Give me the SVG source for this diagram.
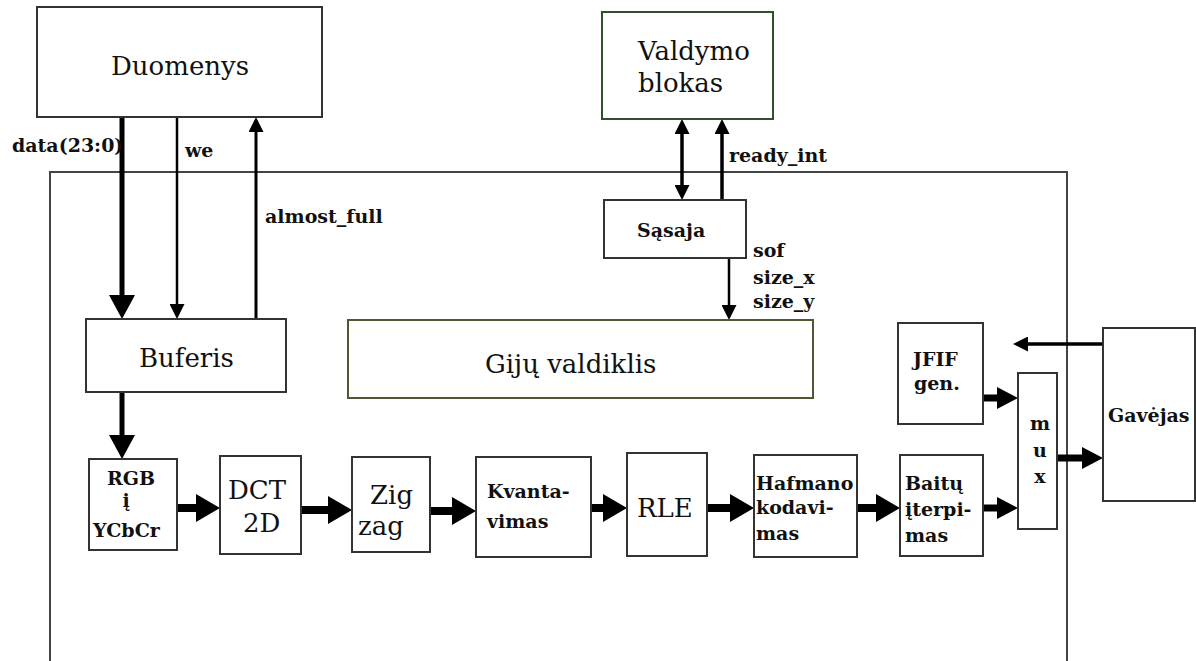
<svg xmlns="http://www.w3.org/2000/svg" width="1196" height="661" viewBox="0 0 1196 661">
<style>
.box{fill:#fff;stroke:#333;stroke-width:2}
.g{stroke:#2f4f2f}
.o{stroke:#555533}
.b{font-weight:bold;font-size:19px;fill:#111}
.r{font-size:26px;fill:#111}
.c{stroke:#000;fill:none}
</style>
<defs>
<marker id="big" markerUnits="userSpaceOnUse" markerWidth="24" markerHeight="28" refX="0" refY="14" orient="auto"><path d="M0,0 L24,14 L0,28 Z" fill="#000"/></marker>
<marker id="vbig" markerUnits="userSpaceOnUse" markerWidth="24" markerHeight="26" refX="0" refY="13" orient="auto"><path d="M0,0 L24,13 L0,26 Z" fill="#000"/></marker>
<marker id="mid" markerUnits="userSpaceOnUse" markerWidth="21" markerHeight="22" refX="0" refY="11" orient="auto"><path d="M0,0 L21,11 L0,22 Z" fill="#000"/></marker>
<marker id="sm" markerUnits="userSpaceOnUse" markerWidth="15" markerHeight="15" refX="0" refY="7.5" orient="auto-start-reverse"><path d="M0,0 L15,7.5 L0,15 Z" fill="#000"/></marker>
</defs>
<rect width="1196" height="661" fill="#fff"/>
<path id="outer" d="M50,661 L50,172 L1067,172 L1067,661" fill="none" stroke="#444" stroke-width="2"/>
<g id="connectors">
<line class="c" x1="122" y1="117" x2="122" y2="295" stroke-width="5" marker-end="url(#vbig)"/>
<line class="c" x1="177" y1="117" x2="177" y2="304" stroke-width="2.5" marker-end="url(#sm)"/>
<line class="c" x1="256" y1="319" x2="256" y2="132" stroke-width="3" marker-end="url(#sm)"/>
<line class="c" x1="122" y1="392" x2="122" y2="435" stroke-width="5" marker-end="url(#vbig)"/>
<line class="c" x1="177" y1="508" x2="196" y2="508" stroke-width="8" marker-end="url(#big)"/>
<line class="c" x1="301" y1="510" x2="328" y2="510" stroke-width="8" marker-end="url(#big)"/>
<line class="c" x1="430" y1="511" x2="452" y2="511" stroke-width="8" marker-end="url(#big)"/>
<line class="c" x1="591" y1="508" x2="603" y2="508" stroke-width="8" marker-end="url(#big)"/>
<line class="c" x1="707" y1="508" x2="730" y2="508" stroke-width="8" marker-end="url(#big)"/>
<line class="c" x1="857" y1="508" x2="876" y2="508" stroke-width="8" marker-end="url(#big)"/>
<line class="c" x1="983" y1="508" x2="997" y2="508" stroke-width="7" marker-end="url(#mid)"/>
<line class="c" x1="983" y1="398" x2="997" y2="398" stroke-width="7" marker-end="url(#mid)"/>
<line class="c" x1="1057" y1="458" x2="1082" y2="458" stroke-width="7" marker-end="url(#mid)"/>
<line class="c" x1="682" y1="134" x2="682" y2="185" stroke-width="3.5" marker-start="url(#sm)" marker-end="url(#sm)"/>
<line class="c" x1="722" y1="200" x2="722" y2="134" stroke-width="3.5" marker-end="url(#sm)"/>
<line class="c" x1="729" y1="258" x2="729" y2="305" stroke-width="2.5" marker-end="url(#sm)"/>
<line class="c" x1="1103" y1="344" x2="1028" y2="344" stroke-width="3.5" marker-end="url(#sm)"/>
</g>
<g id="labels" font-family="DejaVu Serif">
<text class="b" x="12" y="152">data(23:0)</text>
<text class="b" x="185" y="157">we</text>
<text class="b" x="265" y="223">almost_full</text>
<text class="b" x="729" y="162">ready_int</text>
<text class="b" x="753" y="257">sof</text>
<text class="b" x="753" y="284">size_x</text>
<text class="b" x="753" y="308">size_y</text>
</g>
<g id="nodes" font-family="DejaVu Serif">
<g id="duomenys">
<rect class="box" x="37" y="7" width="285" height="110"/>
<text class="r" x="111" y="75" font-size="27">Duomenys</text>
</g>
<g id="valdymo">
<rect class="box g" x="602" y="12" width="171" height="107"/>
<text class="r" x="638" y="60" font-size="27">Valdymo</text>
<text class="r" x="638" y="92" font-size="27">blokas</text>
</g>
<g id="sasaja">
<rect class="box" x="604" y="200" width="142" height="58"/>
<text class="b" x="637" y="237">Sąsaja</text>
</g>
<g id="buferis">
<rect class="box" x="86" y="319" width="200" height="73"/>
<text class="r" x="139" y="367">Buferis</text>
</g>
<g id="giju">
<rect class="box o" x="348" y="320" width="465" height="78"/>
<text class="r" x="485" y="373">Gijų valdiklis</text>
</g>
<g id="rgb">
<rect class="box" x="89" y="459" width="88" height="91"/>
<text class="b" x="107" y="485">RGB</text>
<text class="b" x="126" y="507" text-anchor="middle">į</text>
<text class="b" x="93" y="537">YCbCr</text>
</g>
<g id="dct">
<rect class="box" x="220" y="456" width="81" height="98" stroke="#3a3a30"/>
<text class="r" x="228" y="499" font-size="28">DCT</text>
<text class="r" x="243" y="532" font-size="28">2D</text>
</g>
<g id="zigzag">
<rect class="box" x="352" y="457" width="78" height="95"/>
<text class="r" x="370" y="504" font-size="28">Zig</text>
<text class="r" x="358" y="535" font-size="28">zag</text>
</g>
<g id="kvanta">
<rect class="box" x="476" y="457" width="115" height="100"/>
<text class="b" x="487" y="498">Kvanta-</text>
<text class="b" x="487" y="528">vimas</text>
</g>
<g id="rle">
<rect class="box" x="627" y="453" width="80" height="103"/>
<text class="r" x="637" y="517" font-size="28">RLE</text>
</g>
<g id="hafmano">
<rect class="box" x="754" y="455" width="103" height="102"/>
<text class="b" x="756" y="490">Hafmano</text>
<text class="b" x="756" y="514">kodavi-</text>
<text class="b" x="756" y="540">mas</text>
</g>
<g id="baitu">
<rect class="box" x="900" y="455" width="83" height="101"/>
<text class="b" x="905" y="490">Baitų</text>
<text class="b" x="905" y="516">įterpi-</text>
<text class="b" x="905" y="542">mas</text>
</g>
<g id="jfif">
<rect class="box" x="898" y="323" width="85" height="101"/>
<text class="b" x="913" y="366">JFIF</text>
<text class="b" x="914" y="390">gen.</text>
</g>
<g id="mux">
<rect class="box" x="1018" y="373" width="39" height="156"/>
<text class="b" x="1040" y="430" text-anchor="middle">m</text>
<text class="b" x="1040" y="457" text-anchor="middle">u</text>
<text class="b" x="1040" y="483" text-anchor="middle">x</text>
</g>
<g id="gavejas">
<rect class="box" x="1103" y="328" width="92" height="173"/>
<text class="b" x="1108" y="422">Gavėjas</text>
</g>
</g>
</svg>
